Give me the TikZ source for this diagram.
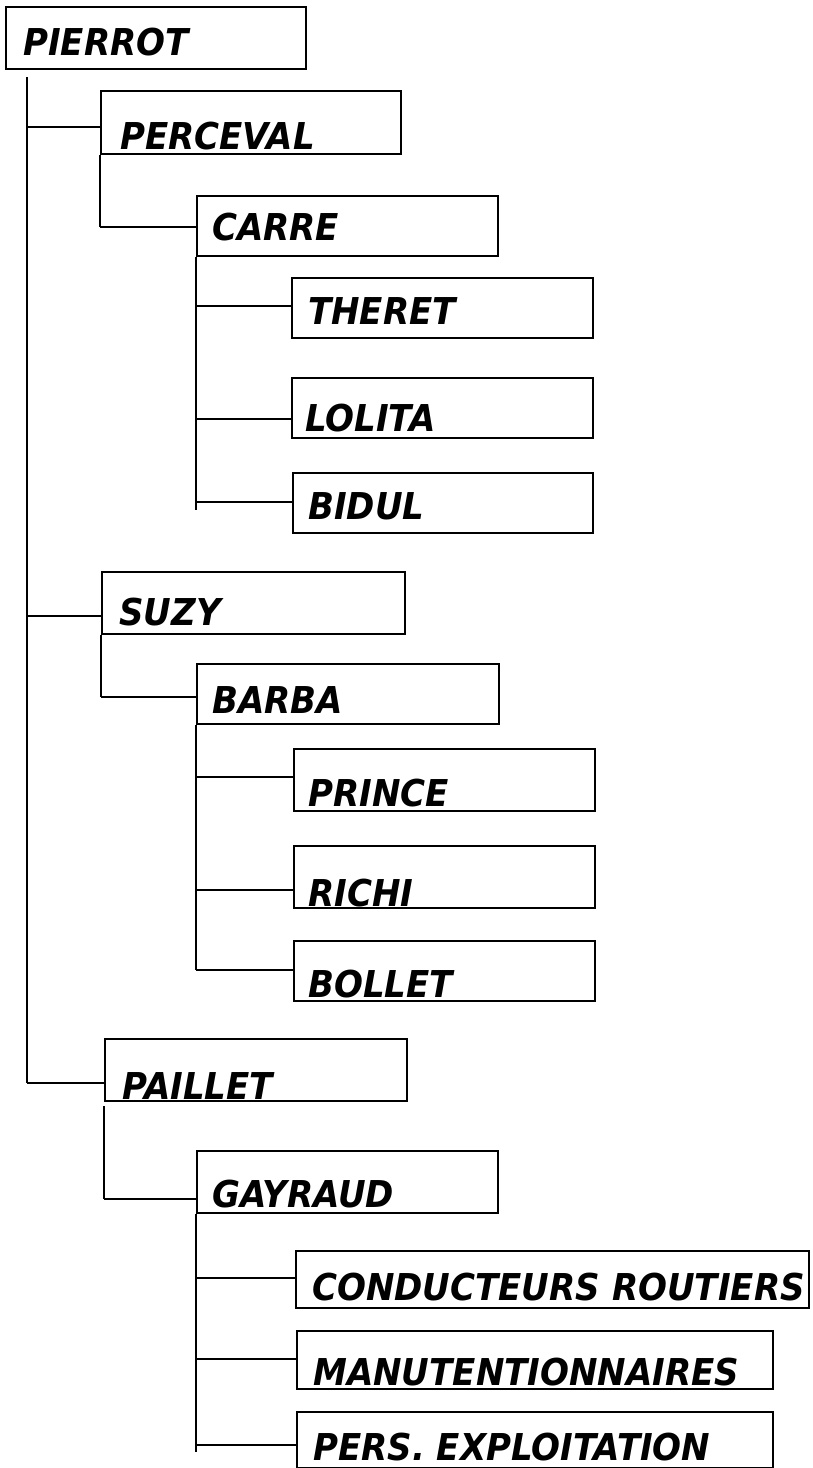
\documentclass[tikz,border=0pt]{standalone}
\usepackage{fontspec}
\setmainfont{DejaVu Sans}
\newfontfamily\orgfont{DejaVu Sans}[FakeStretch=0.92]
\usetikzlibrary{calc}
\tikzset{
  orgbox/.style={draw=black, line width=2pt, anchor=north west, inner sep=0pt, fill=none},
  orgtxt/.style={anchor=base west, inner sep=0pt, font=\orgfont\fontsize{37}{42}\selectfont\bfseries\itshape},
  conn/.style={draw=black, line width=2pt}
}
\newcommand{\mkbox}[8]{%
  \node[orgbox, minimum width=#4pt, minimum height=#5pt] (#1) at (#2,#3) {};
  \node[orgtxt] (#1-t) at (#6,#7) {#8};}
\begin{document}
\begin{tikzpicture}[x=1pt,y=-1pt]
\useasboundingbox (0,0) rectangle (812,1468);
% boxes
\mkbox{pierrot}{5}{6}{300}{62}{23}{55}{PIERROT}
\mkbox{perceval}{100}{90}{300}{63}{120}{149}{PERCEVAL}
\mkbox{carre}{196}{195}{301}{60}{212}{240}{CARRE}
\mkbox{theret}{291}{277}{301}{60}{308}{324}{THERET}
\mkbox{lolita}{291}{377}{301}{60}{305}{431}{LOLITA}
\mkbox{bidul}{292}{472}{300}{60}{308}{519}{BIDUL}
\mkbox{suzy}{101}{571}{303}{62}{119}{625}{SUZY}
\mkbox{barba}{196}{663}{302}{60}{212}{713}{BARBA}
\mkbox{prince}{293}{748}{301}{62}{308}{806}{PRINCE}
\mkbox{richi}{293}{845}{301}{62}{308}{906}{RICHI}
\mkbox{bollet}{293}{940}{301}{60}{308}{997}{BOLLET}
\mkbox{paillet}{104}{1038}{302}{62}{122}{1099}{PAILLET}
\mkbox{gayraud}{196}{1150}{301}{62}{212}{1207}{GAYRAUD}
\mkbox{conduct}{295}{1250}{513}{57}{312}{1300}{CONDUCTEURS ROUTIERS}
\mkbox{manut}{296}{1330}{476}{58}{313}{1385}{MANUTENTIONNAIRES}
\mkbox{pers}{296}{1411}{476}{56}{313}{1460}{PERS. EXPLOITATION}
% entry points of connectors
\coordinate (perceval-in) at (100,127);
\coordinate (carre-in) at (196,227);
\coordinate (theret-in) at (291,306);
\coordinate (lolita-in) at (291,419);
\coordinate (bidul-in) at (292,502);
\coordinate (suzy-in) at (101,616);
\coordinate (barba-in) at (196,697);
\coordinate (prince-in) at (293,777);
\coordinate (richi-in) at (293,890);
\coordinate (bollet-in) at (293,970);
\coordinate (paillet-in) at (104,1083);
\coordinate (gayraud-in) at (196,1199);
\coordinate (conduct-in) at (295,1278);
\coordinate (manut-in) at (296,1359);
\coordinate (pers-in) at (296,1445);
% trunk tops
\coordinate (pierrot-tr) at (27,77);
\coordinate (perceval-tr) at (perceval.south west);
\coordinate (carre-tr) at (carre.south west);
\coordinate (suzy-tr) at (suzy.south west);
\coordinate (barba-tr) at (barba.south west);
\coordinate (paillet-tr) at (104,1106);
\coordinate (gayraud-tr) at (gayraud.south west);
% trunks
\draw[conn] (pierrot-tr) -- (pierrot-tr |- paillet-in);
\draw[conn] (perceval-tr) -- (perceval-tr |- carre-in);
\draw[conn] (carre-tr) -- ($(carre-tr |- bidul-in)+(0,8)$);
\draw[conn] (suzy-tr) -- (suzy-tr |- barba-in);
\draw[conn] (barba-tr) -- (barba-tr |- bollet-in);
\draw[conn] (paillet-tr) -- (paillet-tr |- gayraud-in);
\draw[conn] (gayraud-tr) -- ($(gayraud-tr |- pers-in)+(0,7)$);
% branches
\draw[conn] (pierrot-tr |- perceval-in) -- (perceval-in);
\draw[conn] (pierrot-tr |- suzy-in) -- (suzy-in);
\draw[conn] (pierrot-tr |- paillet-in) -- (paillet-in);
\draw[conn] (perceval-tr |- carre-in) -- (carre-in);
\draw[conn] (carre-tr |- theret-in) -- (theret-in);
\draw[conn] (carre-tr |- lolita-in) -- (lolita-in);
\draw[conn] (carre-tr |- bidul-in) -- (bidul-in);
\draw[conn] (suzy-tr |- barba-in) -- (barba-in);
\draw[conn] (barba-tr |- prince-in) -- (prince-in);
\draw[conn] (barba-tr |- richi-in) -- (richi-in);
\draw[conn] (barba-tr |- bollet-in) -- (bollet-in);
\draw[conn] (paillet-tr |- gayraud-in) -- (gayraud-in);
\draw[conn] (gayraud-tr |- conduct-in) -- (conduct-in);
\draw[conn] (gayraud-tr |- manut-in) -- (manut-in);
\draw[conn] (gayraud-tr |- pers-in) -- (pers-in);
\end{tikzpicture}
\end{document}
